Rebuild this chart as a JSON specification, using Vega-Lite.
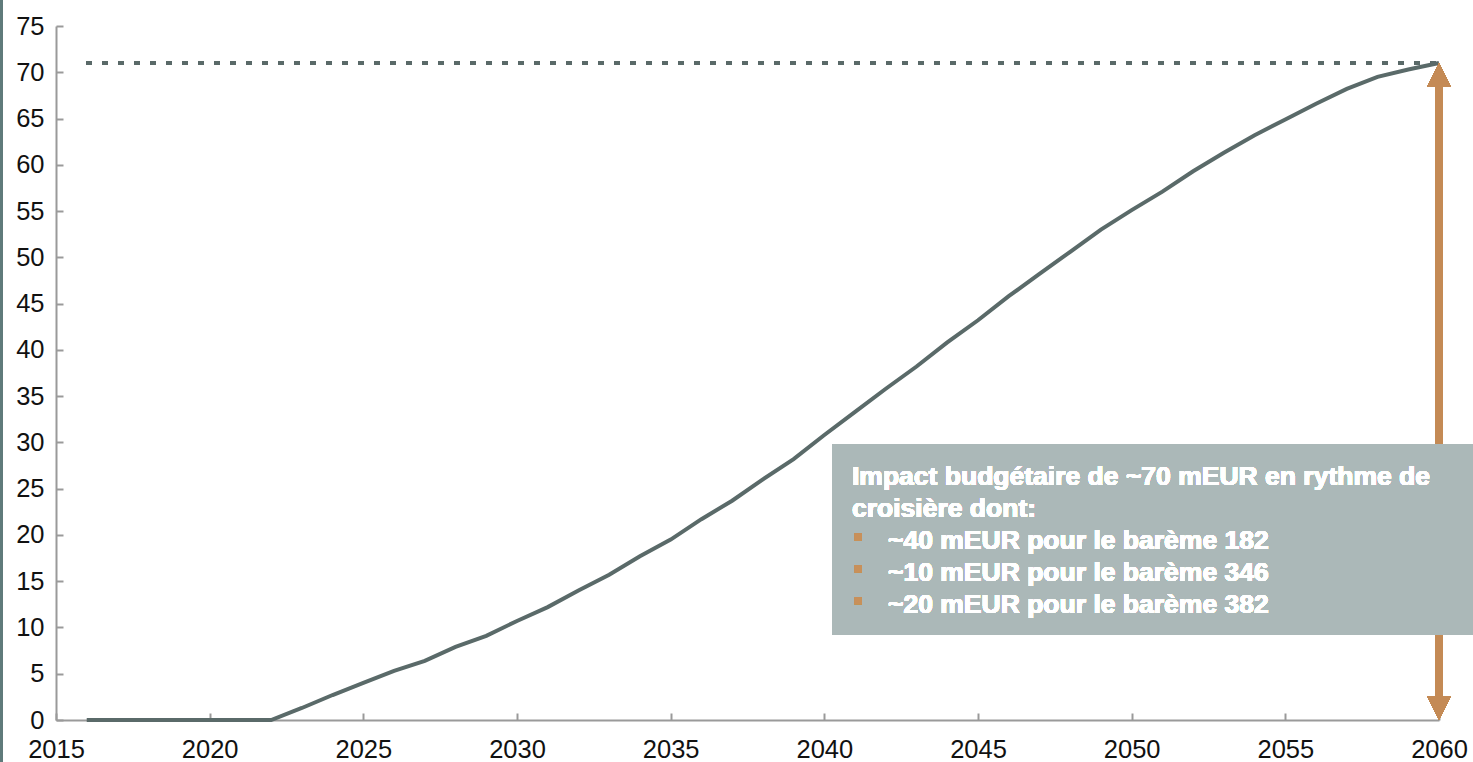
{
  "$schema": "https://vega.github.io/schema/vega-lite/v6.json",
  "autosize": "none",
  "width": 1383,
  "height": 694,
  "padding": {"left": 56, "top": 26, "right": 34, "bottom": 42},
  "background": "white",
  "config": {
    "view": {"stroke": null},
    "font": "Liberation Sans",
    "axis": {
      "grid": false,
      "domainColor": "#9a9a9a",
      "domainWidth": 2,
      "tickColor": "#9a9a9a",
      "tickWidth": 2,
      "tickSize": -7,
      "labelFont": "Liberation Sans",
      "labelFontSize": 25.5,
      "labelColor": "#111111",
      "title": null
    }
  },
  "data": {
    "values": [
      {"year": 2016, "value": 0},
      {"year": 2017, "value": 0},
      {"year": 2018, "value": 0},
      {"year": 2019, "value": 0},
      {"year": 2020, "value": 0},
      {"year": 2021, "value": 0},
      {"year": 2022, "value": 0},
      {"year": 2023, "value": 1.3},
      {"year": 2024, "value": 2.7},
      {"year": 2025, "value": 4.0},
      {"year": 2026, "value": 5.3},
      {"year": 2027, "value": 6.4},
      {"year": 2028, "value": 7.9},
      {"year": 2029, "value": 9.1},
      {"year": 2030, "value": 10.7},
      {"year": 2031, "value": 12.2},
      {"year": 2032, "value": 14.0},
      {"year": 2033, "value": 15.7},
      {"year": 2034, "value": 17.7},
      {"year": 2035, "value": 19.5},
      {"year": 2036, "value": 21.7},
      {"year": 2037, "value": 23.7},
      {"year": 2038, "value": 26.0},
      {"year": 2039, "value": 28.2},
      {"year": 2040, "value": 30.8},
      {"year": 2041, "value": 33.3},
      {"year": 2042, "value": 35.8},
      {"year": 2043, "value": 38.2},
      {"year": 2044, "value": 40.8},
      {"year": 2045, "value": 43.2},
      {"year": 2046, "value": 45.8},
      {"year": 2047, "value": 48.2},
      {"year": 2048, "value": 50.6},
      {"year": 2049, "value": 53.0},
      {"year": 2050, "value": 55.1},
      {"year": 2051, "value": 57.1},
      {"year": 2052, "value": 59.3},
      {"year": 2053, "value": 61.3},
      {"year": 2054, "value": 63.2},
      {"year": 2055, "value": 64.9},
      {"year": 2056, "value": 66.6},
      {"year": 2057, "value": 68.2},
      {"year": 2058, "value": 69.5},
      {"year": 2059, "value": 70.3},
      {"year": 2060, "value": 71.0}
    ]
  },
  "layer": [
    {
      "mark": {"type": "rule", "color": "#5f7b7b", "strokeWidth": 3, "clip": false},
      "encoding": {"x": {"datum": 2013.22}, "y": {"datum": -10}, "y2": {"datum": 80}}
    },
    {
      "mark": {"type": "line", "color": "#5a6a69", "strokeWidth": 4, "clip": false},
      "encoding": {
        "x": {
          "field": "year", "type": "quantitative",
          "scale": {"domain": [2015, 2060], "nice": false, "zero": false},
          "axis": {"values": [2015, 2020, 2025, 2030, 2035, 2040, 2045, 2050, 2055, 2060], "format": "d", "labelPadding": 24, "labelFlush": false, "labelOverlap": false}
        },
        "y": {
          "field": "value", "type": "quantitative",
          "scale": {"domain": [0, 75], "nice": false},
          "axis": {"values": [0, 5, 10, 15, 20, 25, 30, 35, 40, 45, 50, 55, 60, 65, 70, 75], "labelPadding": 19, "labelFlush": false, "labelOverlap": false}
        }
      }
    },
    {
      "mark": {"type": "rule", "color": "#5a6a69", "strokeWidth": 3, "strokeDash": [5, 11]},
      "encoding": {"x": {"datum": 2016}, "x2": {"datum": 2060}, "y": {"datum": 71}}
    },
    {
      "mark": {"type": "rule", "color": "#C48A55", "strokeWidth": 7, "clip": false},
      "encoding": {"x": {"datum": 2060}, "y": {"datum": 2}, "y2": {"datum": 69}}
    },
    {
      "mark": {"type": "point", "filled": true, "opacity": 1, "color": "#C48A55", "size": 576, "shape": "M0,0L1,2L-1,2Z", "clip": false},
      "encoding": {"x": {"datum": 2060}, "y": {"datum": 71}}
    },
    {
      "mark": {"type": "point", "filled": true, "opacity": 1, "color": "#C48A55", "size": 576, "shape": "M0,0L1,-2L-1,-2Z", "clip": false},
      "encoding": {"x": {"datum": 2060}, "y": {"datum": 0}}
    },
    {
      "mark": {"type": "rect", "color": "#6f6f6f", "opacity": 0.6, "xOffset": 1, "yOffset": 5, "clip": false},
      "encoding": {"x": {"datum": 2040.25}, "x2": {"datum": 2062}, "y": {"datum": 29.8}, "y2": {"datum": 9.2}}
    },
    {
      "mark": {"type": "rect", "color": "#abb8b8", "opacity": 1, "clip": false},
      "encoding": {"x": {"datum": 2040.25}, "x2": {"datum": 2062}, "y": {"datum": 29.8}, "y2": {"datum": 9.2}}
    },
    {
      "mark": {"type": "text", "color": "white", "fontWeight": "bold", "fontSize": 26.5, "align": "left", "baseline": "alphabetic", "clip": false},
      "encoding": {"x": {"datum": 2040.9}, "y": {"datum": 25.4}, "text": {"value": "Impact budgétaire de ~70 mEUR en rythme de"}}
    },
    {
      "mark": {"type": "text", "color": "white", "fontWeight": "bold", "fontSize": 26.5, "align": "left", "baseline": "alphabetic", "clip": false},
      "encoding": {"x": {"datum": 2040.9}, "y": {"datum": 21.95}, "text": {"value": "croisière dont:"}}
    },
    {
      "mark": {"type": "text", "color": "white", "fontWeight": "bold", "fontSize": 26.5, "align": "left", "baseline": "alphabetic", "clip": false},
      "encoding": {"x": {"datum": 2042.07}, "y": {"datum": 18.5}, "text": {"value": "~40 mEUR pour le barème 182"}}
    },
    {
      "mark": {"type": "text", "color": "white", "fontWeight": "bold", "fontSize": 26.5, "align": "left", "baseline": "alphabetic", "clip": false},
      "encoding": {"x": {"datum": 2042.07}, "y": {"datum": 15.05}, "text": {"value": "~10 mEUR pour le barème 346"}}
    },
    {
      "mark": {"type": "text", "color": "white", "fontWeight": "bold", "fontSize": 26.5, "align": "left", "baseline": "alphabetic", "clip": false},
      "encoding": {"x": {"datum": 2042.07}, "y": {"datum": 11.6}, "text": {"value": "~20 mEUR pour le barème 382"}}
    },
    {
      "mark": {"type": "point", "shape": "square", "filled": true, "opacity": 1, "color": "#C8905A", "size": 49, "clip": false},
      "encoding": {"x": {"datum": 2041.1}, "y": {"datum": 19.8}}
    },
    {
      "mark": {"type": "point", "shape": "square", "filled": true, "opacity": 1, "color": "#C8905A", "size": 49, "clip": false},
      "encoding": {"x": {"datum": 2041.1}, "y": {"datum": 16.35}}
    },
    {
      "mark": {"type": "point", "shape": "square", "filled": true, "opacity": 1, "color": "#C8905A", "size": 49, "clip": false},
      "encoding": {"x": {"datum": 2041.1}, "y": {"datum": 12.9}}
    }
  ]
}
